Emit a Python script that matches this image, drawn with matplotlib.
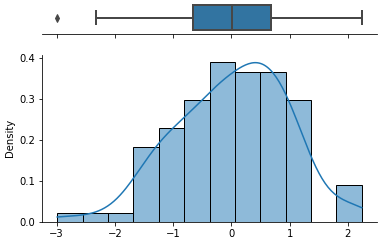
import numpy as np
import matplotlib
matplotlib.use("Agg")
import matplotlib.pyplot as plt
import seaborn as sns

lower_tail = [-2.99, -2.33, -1.85]
left_rise = [-1.65, -1.58, -1.52, -1.47, -1.41, -1.36, -1.31, -1.27,
             -1.22, -1.17, -1.13, -1.08, -1.04, -0.99, -0.95, -0.91, -0.87, -0.83]
left_shoulder = [-0.80, -0.76, -0.72, -0.67, -0.65, -0.60, -0.55, -0.51,
                 -0.47, -0.44, -0.42, -0.40, -0.38]
center = [-0.35, -0.30, -0.26, -0.22, -0.19, -0.16, -0.13, -0.11, -0.09,
          -0.07, -0.05, -0.04, -0.03, -0.02, -0.01, 0.00, 0.03,
          0.12, 0.18, 0.23, 0.27, 0.30, 0.33, 0.35, 0.37, 0.39, 0.41,
          0.43, 0.44, 0.45, 0.46, 0.47, 0.49]
right_shoulder = [0.50, 0.51, 0.53, 0.55, 0.57, 0.60, 0.63, 0.67, 0.69,
                  0.73, 0.77, 0.80, 0.84, 0.87, 0.90, 0.93,
                  0.95, 0.97, 0.99, 1.01, 1.03, 1.06, 1.08, 1.11, 1.14,
                  1.17, 1.21, 1.26, 1.32]
upper_tail = [1.84, 1.93, 2.06, 2.24]

values = np.array(lower_tail + left_rise + left_shoulder + center
                  + right_shoulder + upper_tail)

W, H = 383, 245
fig = plt.figure(figsize=(W / 72, H / 72), dpi=72)
left, width = 42 / W, 335 / W
ax_box = fig.add_axes([left, 1 - 33.5 / H, width, 31.5 / H])
ax_hist = fig.add_axes([left, 1 - 222.3 / H, width, 167.8 / H], sharex=ax_box)

line_gray = "#474747"
sns.boxplot(x=values, ax=ax_box, linewidth=2, linecolor=line_gray,
            flierprops=dict(marker="d", markerfacecolor=line_gray,
                            markeredgecolor=line_gray, markersize=5))
sns.histplot(x=values, ax=ax_hist, bins=12, kde=True, stat="density")

ax_box.set(yticks=[])
plt.setp(ax_box.get_xticklabels(), visible=False)
sns.despine(ax=ax_hist)
sns.despine(ax=ax_box, left=True)

fig.savefig("out.png", dpi=72)
